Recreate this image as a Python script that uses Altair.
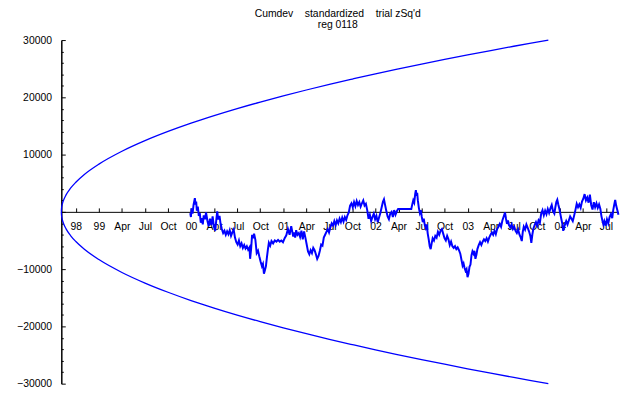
import json
import pandas as pd
import altair as alt

BLUE = "#0000ff"
FONT = "Liberation Sans"

TITLE = "Cumdev\u00a0\u00a0\u00a0\u00a0standardized\u00a0\u00a0\u00a0\u00a0trial\u00a0zSq'd"
SUBTITLE = "reg 0118" + "\u00a0" * 16

# x axis: quarter index positions and their labels
x_tick_values = list(range(24))
x_tick_labels = ["98", "99", "Apr", "Jul", "Oct", "00", "Apr", "Jul", "Oct", "01",
                 "Apr", "Jul", "Oct", "02", "Apr", "Jul", "Oct", "03", "Apr", "Jul",
                 "Oct", "04", "Apr", "Jul"]
x_domain = [-0.63, 23.53]

# y axis
y_label_values = [-30000, -20000, -10000, 10000, 20000, 30000]
y_tick_values = [-30000, -28000, -26000, -24000, -22000, -20000, -18000, -16000, -14000,
                 -12000, -10000, -8000, -6000, -4000, -2000, 0, 2000, 4000, 6000, 8000,
                 10000, 12000, 14000, 16000, 18000, 20000, 22000, 24000, 26000, 28000, 30000]
y_domain = [-30000, 30000]

# envelope (upper branch; lower branch is its mirror)
env_q = [-0.63, -0.62, -0.605, -0.58, -0.53, -0.43, -0.23, 0.0, 0.37, 1, 2, 3, 4, 5, 6, 7,
         8, 9, 10, 11, 12, 13, 14, 15, 16, 17, 18, 19, 20, 20.5]
env_v = [0, 650, 1030, 1460, 2060, 2920, 4130, 5180, 6530, 8330, 10580, 12430, 14040,
         15490, 16800, 18030, 19170, 20250, 21280, 22260, 23190, 24100, 24960, 25800,
         26610, 27400, 28170, 28920, 29640, 30000]

# cumulative deviation walk
walk_q = [4.964, 4.993, 5.021, 5.064, 5.107, 5.164, 5.193, 5.221, 5.250, 5.292, 5.335,
          5.378, 5.421, 5.464, 5.507, 5.549, 5.606, 5.649, 5.706, 5.763, 5.820, 5.878,
          5.935, 5.992, 6.049, 6.092, 6.134, 6.177, 6.234, 6.277, 6.334, 6.391, 6.448,
          6.505, 6.563, 6.620, 6.677, 6.734, 6.791, 6.848, 6.905, 6.962, 7.019, 7.076,
          7.133, 7.190, 7.247, 7.305, 7.362, 7.419, 7.476, 7.533, 7.561, 7.604, 7.647,
          7.690, 7.733, 7.790, 7.847, 7.904, 7.961, 8.018, 8.075, 8.118, 8.161, 8.204,
          8.246, 8.289, 8.332, 8.375, 8.432, 8.489, 8.560, 8.632, 8.703, 8.774, 8.846,
          8.917, 8.988, 9.060, 9.131, 9.202, 9.274, 9.345, 9.388, 9.431, 9.474, 9.516,
          9.559, 9.616, 9.673, 9.730, 9.788, 9.845, 9.902, 9.959, 10.016, 10.073, 10.130,
          10.187, 10.244, 10.301, 10.358, 10.415, 10.472, 10.530, 10.587, 10.644, 10.701,
          10.758, 10.815, 10.872, 10.929, 10.986, 11.043, 11.100, 11.157, 11.215, 11.272,
          11.329, 11.386, 11.443, 11.500, 11.557, 11.614, 11.671, 11.728, 11.785, 11.842,
          11.899, 11.957, 12.014, 12.071, 12.128, 12.185, 12.242, 12.299, 12.356, 12.413,
          12.470, 12.527, 12.584, 12.642, 12.699, 12.756, 12.813, 12.870, 12.927, 12.984,
          13.041, 13.098, 13.155, 13.212, 13.269, 13.326, 13.369, 13.412, 13.469, 13.526,
          13.583, 13.640, 13.697, 13.754, 13.811, 13.869, 13.926, 13.983, 14.554,
          14.596, 14.639, 14.682, 14.725, 14.753, 14.782, 14.810, 14.839, 14.882, 14.925,
          14.967, 15.010, 15.053, 15.096, 15.139, 15.181, 15.224, 15.267, 15.310, 15.353,
          15.395, 15.438, 15.481, 15.538, 15.595, 15.652, 15.709, 15.766, 15.824, 15.881,
          15.938, 15.995, 16.052, 16.109, 16.166, 16.223, 16.280, 16.337, 16.394, 16.451,
          16.508, 16.566, 16.623, 16.680, 16.737, 16.780, 16.822, 16.865, 16.908, 16.951,
          16.994, 17.036, 17.079, 17.122, 17.165, 17.208, 17.251, 17.293, 17.336, 17.379,
          17.422, 17.479, 17.536, 17.593, 17.650, 17.707, 17.764, 17.821, 17.878, 17.935,
          17.993, 18.050, 18.107, 18.164, 18.221, 18.278, 18.335, 18.392, 18.449, 18.506,
          18.563, 18.620, 18.663, 18.706, 18.749, 18.792, 18.849, 18.906, 18.963, 19.020,
          19.077, 19.134, 19.191, 19.248, 19.305, 19.348, 19.391, 19.434, 19.491, 19.548,
          19.605, 19.662, 19.719, 19.762, 19.805, 19.848, 19.905, 19.962, 20.019, 20.076,
          20.133, 20.190, 20.247, 20.304, 20.361, 20.418, 20.476, 20.533, 20.590, 20.647,
          20.704, 20.761, 20.804, 20.846, 20.889, 20.932, 20.975, 21.018, 21.061, 21.103,
          21.146, 21.189, 21.232, 21.275, 21.332, 21.389, 21.446, 21.503, 21.560, 21.617,
          21.674, 21.731, 21.788, 21.845, 21.902, 21.960, 22.017, 22.074, 22.131, 22.188,
          22.245, 22.302, 22.359, 22.416, 22.473, 22.530, 22.587, 22.644, 22.701, 22.758,
          22.801, 22.844, 22.887, 22.929, 22.986, 23.043, 23.100, 23.157, 23.214, 23.272,
          23.315, 23.357, 23.400, 23.443, 23.486, 23.543]
walk_v = [-200, -900, 600, -300, 1200, 2400, 1300, 1800, 200, 900, -700,
          -200, -1900, -1100, -2200, -600, -1300, -100, -1500, -2500, -1200, -2300,
          -800, -2600, -3300, -1500, 100, -1300, -700, -2000, -3000, -3700, -3300,
          -4000, -3400, -3900, -3200, -4200, -3600, -3100, -4500, -5300, -5700, -5000,
          -6000, -5500, -6300, -5800, -6400, -6000, -6600, -6200, -8200, -6500, -4000,
          -4600, -3800, -4900, -7200, -6800, -7800, -8700, -9500, -9100, -10800, -10200,
          -9500, -8000, -6600, -5400, -5900, -5100, -5500, -5000, -5200, -4900, -5200,
          -5000, -5300, -4600, -4100, -3000, -4000, -2500, -3400, -4300, -3600, -4500,
          -3200, -4000, -3700, -4400, -3300, -4800, -3400, -4500, -5700, -6900, -7400,
          -6700, -7200, -6300, -6700, -7400, -8200, -7700, -6800, -5700, -5900,
          -4500, -4000, -3500, -3000, -3600, -2700, -2000, -2400, -1600, -2300,
          -1500, -2000, -1200, -1800, -1000, -1700, -900, -1400, -600, -100,
          1100, 1500, 800, 1700, 1000, 1900, 1200, 1700, 900, 1500,
          2000, 1100, 1400, 300, -1200, -500, -1600, -900, -300, -1300,
          -700, -1800, -1000, -200, 800, 1800, 2200, 1300, 200, -800,
          -1300, -300, 0, -900, 300, -500, 100, 500, 500,
          1300, 2000, 1600, 3200, 3800, 2800, 3300, 2000, 700, -200,
          300, -900, -1800, -1200, -2300, -2800, -2200, -3800, -4800, -6000,
          -6500, -5500, -4600, -5000, -4200, -4500, -3500, -4000, -3300, -3000,
          -3800, -4600, -5000, -4200, -4800, -5800, -5200, -6000, -6300, -6000,
          -6500, -6200, -6700, -7300, -8500, -9400, -9000, -9800, -10300, -10000,
          -11400, -10800, -9600, -9200, -7600, -6900, -7300, -6800, -8200, -7500,
          -6500, -5800, -5300, -5800, -5200, -4800, -5100, -4600, -5200, -4500,
          -4000, -3600, -4000, -3300, -3900, -3000, -2600, -2100, -2600, -1500,
          -800, -100, -1200, -2100, -1500, -2300, -2700, -2200, -3000, -2600,
          -3300, -3700, -3100, -4000, -4500, -5100, -3500, -2600, -3100, -2200,
          -2800, -3400, -4200, -5400, -4000, -3000, -2300, -1800, -2400, -1500,
          -1900, -300, 300, -600, 200, -400, 500, -200, 600, 1200,
          100, -300, 800, 1700, 2100, 1300, 600, -300, -1200, -2000,
          -3300, -2600, -2100, -1600, -2200, -1500, -800, -1200, -1600, -700,
          300, 1400, 800, 1300, 700, 1800, 2300, 3100, 2000, 2500,
          1600, 3000, 1200, 400, 1700, 800, 1500, 700, 1300, 500,
          -700, -1500, -2200, -1600, -2400, -1300, -2000, -900, -400, -1100,
          300, 1200, 2100, 1100, 400, -500]

W, H = 564, 348

env_df = pd.concat([
    pd.DataFrame({"q": env_q, "v": env_v, "branch": "upper"}),
    pd.DataFrame({"q": env_q, "v": [-v for v in env_v], "branch": "lower"}),
])
walk_df = pd.DataFrame({"q": walk_q, "v": walk_v})

xscale = alt.Scale(domain=x_domain, nice=False, zero=False)
yscale = alt.Scale(domain=y_domain, nice=False, zero=False)

xaxis = alt.Axis(
    orient="top", offset=-H / 2, values=x_tick_values,
    labelExpr=json.dumps(x_tick_labels) + "[datum.value]",
    tickSize=4, tickColor="black", tickWidth=1,
    labelBaseline="top", labelPadding=-14, labelAlign="center",
    labelFont=FONT, labelFontSize=10.5, labelColor="black",
    labelOverlap=False, labelFlush=False, labelBound=False,
    domainColor="black", domainWidth=1, grid=False, title=None,
)
yaxis_left = alt.Axis(
    orient="left", values=y_label_values, format="d", ticks=False,
    labelPadding=10, labelFont=FONT, labelFontSize=10.5, labelColor="black",
    domainColor="black", domainWidth=1.5, grid=False, title=None,
)
yaxis_ticks = alt.Axis(
    orient="right", offset=-W, values=y_tick_values, labels=False, domain=False,
    tickColor="black", tickWidth=1,
    tickSize={"condition": {"test": "datum.value % 10000 === 0", "value": 4}, "value": 2},
    grid=False, title=None,
)

env = alt.Chart(env_df).mark_line(color=BLUE, strokeWidth=1.3, interpolate="monotone").encode(
    x=alt.X("q:Q", scale=xscale, axis=xaxis),
    y=alt.Y("v:Q", scale=yscale, axis=yaxis_left),
    detail="branch:N",
)
walk = alt.Chart(walk_df).mark_line(color=BLUE, strokeWidth=2).encode(
    x=alt.X("q:Q", scale=xscale, axis=xaxis),
    y=alt.Y("v:Q", scale=yscale, axis=yaxis_ticks),
)

chart = alt.layer(env, walk).resolve_axis(y="independent").properties(
    width=W, height=H,
    title=alt.Title(
        TITLE, subtitle=SUBTITLE, anchor="middle", frame="group", dx=-2,
        font=FONT, fontSize=10.5, fontWeight="normal", color="black",
        subtitleFont=FONT, subtitleFontSize=10.5, subtitleColor="black",
        subtitlePadding=0, offset=5,
    ),
    padding={"left": 54, "top": 30, "right": 14, "bottom": 8},
    autosize="none",
).configure_view(stroke=None)

chart.save("out.html", embed_options={"renderer": "svg", "actions": False})
